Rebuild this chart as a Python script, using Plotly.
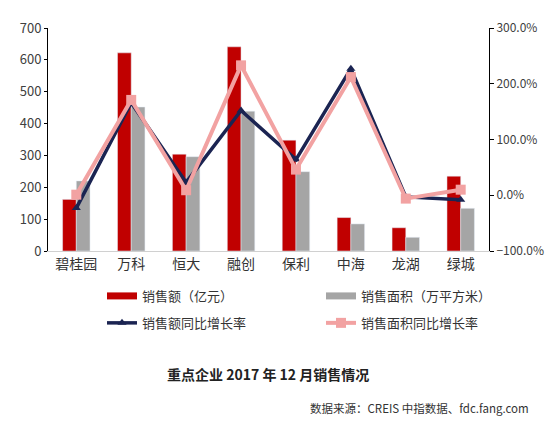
import plotly.graph_objects as go

# categories and values
companies = ["碧桂园", "万科", "恒大", "融创", "保利", "中海", "龙湖", "绿城"]
sales_amount = [162, 622, 304, 641, 348, 105, 73, 235]      # 亿元
sales_area = [220, 452, 296, 439, 249, 85, 43, 134]         # 万平方米
sales_amount_yoy = [-0.23, 1.66, 0.23, 1.52, 0.64, 2.27, -0.03, -0.08]
sales_area_yoy = [0.01, 1.71, 0.09, 2.33, 0.46, 2.12, -0.06, 0.10]

RED = "#C00000"
GRAY = "#A5A5A5"
NAVY = "#1B2452"
PINK = "#F2A2A2"
FONT = "Noto Sans CJK SC"

fig = go.Figure()

# bars (left axis)
fig.add_trace(go.Bar(x=companies, y=sales_amount, marker_color=RED,
                     name="销售额（亿元）", showlegend=False))
fig.add_trace(go.Bar(x=companies, y=sales_area, marker_color=GRAY,
                     name="销售面积（万平方米）", showlegend=False))

# growth lines (right axis)
fig.add_trace(go.Scatter(x=companies, y=sales_amount_yoy, yaxis="y2",
                         mode="lines+markers", name="销售额同比增长率",
                         line=dict(color=NAVY, width=3.5),
                         marker=dict(symbol="triangle-up", size=8, color=NAVY),
                         legend="legend2"))
fig.add_trace(go.Scatter(x=companies, y=sales_area_yoy, yaxis="y2",
                         mode="lines+markers", name="销售面积同比增长率",
                         line=dict(color=PINK, width=4),
                         marker=dict(symbol="square", size=10, color=PINK),
                         legend="legend2"))

# legend-only entries so the bar keys look like thick strokes
fig.add_trace(go.Scatter(x=[None], y=[None], mode="lines", name="销售额（亿元）",
                         line=dict(color=RED, width=7), legend="legend"))
fig.add_trace(go.Scatter(x=[None], y=[None], mode="lines", name="销售面积（万平方米）",
                         line=dict(color=GRAY, width=7), legend="legend"))

legend_style = dict(orientation="h", xanchor="left", yanchor="middle",
                    xref="container", yref="container",
                    entrywidth=174, entrywidthmode="pixels",
                    font=dict(family=FONT, size=13, color="#333333"),
                    bgcolor="rgba(0,0,0,0)", itemwidth=30, tracegroupgap=0)

# the page body adds an 8px margin, so the figure is 8px smaller each way
fig.update_layout(
    width=551, height=421,
    margin=dict(l=40, r=70, t=20, b=178, autoexpand=False),
    paper_bgcolor="white", plot_bgcolor="white",
    font=dict(family=FONT, color="#404040"),
    barmode="group", bargap=0.5, bargroupgap=0,
    showlegend=True,
    legend=dict(x=0.1706, y=0.316, **legend_style),
    legend2=dict(x=0.1706, y=0.252, **legend_style),
    xaxis=dict(showline=True, linecolor="#D0D0D0", linewidth=1,
               tickfont=dict(family=FONT, size=14, color="#333333"),
               ticks="", showgrid=False),
    yaxis=dict(range=[0, 700], dtick=100, showline=True, linecolor="#000000",
               linewidth=1, ticks="outside", ticklen=3, tickcolor="#000000",
               showgrid=False, zeroline=False,
               tickfont=dict(family=FONT, size=13, color="#404040")),
    yaxis2=dict(range=[-1, 3], dtick=1, overlaying="y", side="right",
                tickformat=".1%", showline=True, linecolor="#000000",
                linewidth=1, ticks="outside", ticklen=4, tickcolor="#000000",
                showgrid=False, zeroline=False,
                tickfont=dict(family=FONT, size=12, color="#404040")),
)

fig.add_annotation(text="<b>重点企业 2017 年 12 月销售情况</b>",
                   xref="paper", yref="paper", x=0.499, y=-0.552,
                   xanchor="center", yanchor="middle", showarrow=False,
                   font=dict(family=FONT, size=14, color="#222222"))
fig.add_annotation(text="数据来源：CREIS 中指数据、fdc.fang.com",
                   xref="paper", yref="paper", x=1.095, y=-0.704,
                   xanchor="right", yanchor="middle", showarrow=False,
                   font=dict(family=FONT, size=11.5, color="#333333"))

fig.write_html("out.html")
